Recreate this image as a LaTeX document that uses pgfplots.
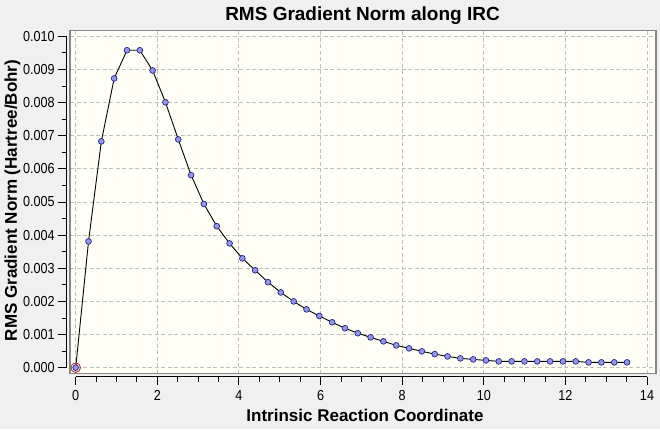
\documentclass[border=0pt]{standalone}
\usepackage{pgfplots}
\pgfplotsset{compat=1.18}
\usepackage{fontspec}
\setmainfont{Liberation Sans}
\newfontfamily\tickfont[FakeStretch=0.87]{Liberation Sans}
\definecolor{outerbg}{RGB}{240,240,240}
\definecolor{plotbg}{RGB}{255,255,245}
\definecolor{framec}{RGB}{135,135,135}
\definecolor{gridc}{RGB}{192,192,192}
\definecolor{markfill}{RGB}{150,150,232}
\definecolor{markdraw}{RGB}{35,35,140}
\definecolor{selred}{RGB}{170,40,50}

\pgfplotstableread{
x y
0.0000 0.00000
0.3142 0.00381
0.6284 0.00683
0.9426 0.00873
1.2568 0.00958
1.5710 0.00958
1.8852 0.00897
2.1994 0.00801
2.5136 0.00689
2.8278 0.00581
3.1420 0.00494
3.4562 0.00427
3.7704 0.00375
4.0846 0.00330
4.3988 0.00294
4.7130 0.00258
5.0272 0.00227
5.3414 0.00200
5.6556 0.00176
5.9698 0.00156
6.2840 0.00137
6.5982 0.00119
6.9124 0.00104
7.2266 0.000915
7.5408 0.000795
7.8550 0.000674
8.1692 0.000584
8.4834 0.000493
8.7976 0.000410
9.1118 0.000340
9.4260 0.000280
9.7402 0.000250
10.0544 0.000220
10.3686 0.000190
10.6828 0.000190
10.9970 0.000190
11.3112 0.000190
11.6254 0.000190
11.9396 0.000190
12.2538 0.000190
12.5680 0.000160
12.8822 0.000160
13.1964 0.000160
13.5106 0.000160
}\irc

\begin{document}
\begin{tikzpicture}
\fill[outerbg] (0pt,0pt) rectangle (660pt,429pt);
% plot frame, grid and data
\begin{axis}[
  at={(70pt,55.5pt)}, anchor=south west,
  scale only axis, width=586pt, height=343.2pt,
  xmin=-0.1397, xmax=14.221,
  ymin=-0.000176, ymax=0.010182,
  axis background/.style={fill=plotbg},
  axis line style={framec, line width=1.2pt},
  xtick={0,2,4,6,8,10,12,14},
  ytick={0,0.001,0.002,0.003,0.004,0.005,0.006,0.007,0.008,0.009,0.010},
  xticklabels={}, yticklabels={},
  scaled y ticks=false, scaled x ticks=false,
  major tick length=0pt,
  grid=major,
  major grid style={gridc, line width=0.9pt, dash pattern=on 4pt off 2.5pt},
  clip=false,
]
\addplot[black, line width=0.9pt, mark=*, mark size=2.9pt,
  mark options={fill=markfill, draw=markdraw, line width=0.7pt}] table[x=x,y=y] {\irc};
\addplot[only marks, mark=o, mark size=4.8pt,
  mark options={draw=selred, line width=0.8pt}] coordinates {(0,0)};
\end{axis}
% separate tick axes
\begin{axis}[
  at={(75.7pt,61.33pt)}, anchor=south west,
  scale only axis, width=571.3pt, height=331.34pt,
  xmin=0, xmax=14, ymin=0, ymax=0.010,
  axis x line=bottom, axis y line=left,
  axis x line shift=9pt, axis y line shift=9pt,
  axis line style={-, black, line width=1pt},
  xtick={0,2,4,6,8,10,12,14},
  minor x tick num=3,
  ytick={0,0.001,0.002,0.003,0.004,0.005,0.006,0.007,0.008,0.009,0.010},
  minor y tick num=1,
  scaled y ticks=false,
  tick align=outside,
  major tick length=8.5pt, minor tick length=5pt,
  tick style={black, line width=0.9pt},
  yticklabel style={/pgf/number format/.cd, fixed, fixed zerofill, precision=3},
  xticklabel style={yshift=-1.5pt},
  /pgf/number format/assume math mode=true,
  ticklabel style={font=\fontsize{14.5}{17}\tickfont},
]
\addplot[draw=none] coordinates {(0,0)};
\end{axis}
\node[anchor=base] at (362.5pt,408.3pt) {\fontsize{19}{22}\selectfont\bfseries RMS Gradient Norm along IRC};
\node[anchor=base] at (365pt,7.3pt) {\fontsize{17}{20}\selectfont\bfseries Intrinsic Reaction Coordinate};
\node[rotate=90, anchor=base] at (17pt,228.5pt) {\fontsize{17}{20}\selectfont\bfseries RMS Gradient Norm (Hartree/Bohr)};
\end{tikzpicture}
\end{document}
